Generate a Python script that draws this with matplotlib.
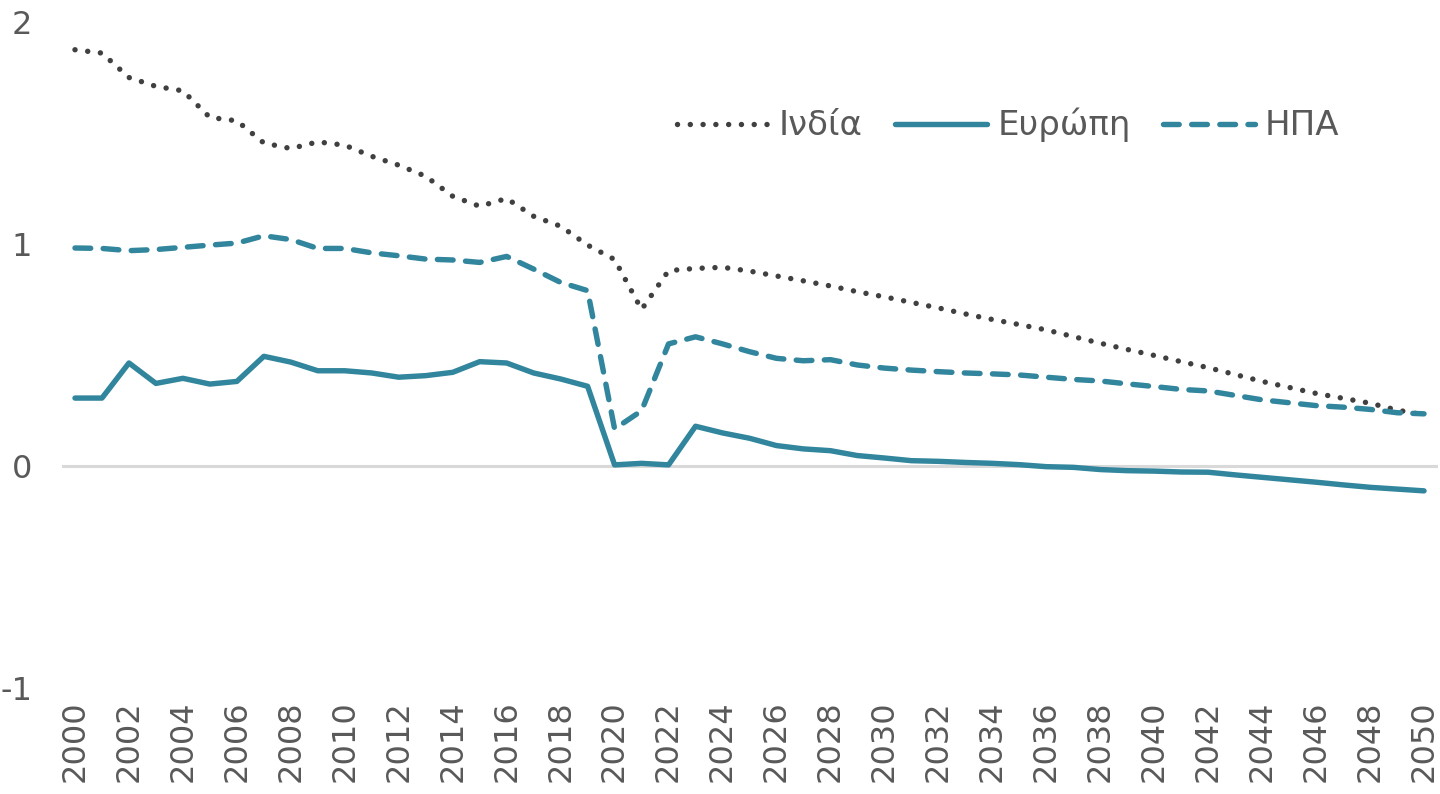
import matplotlib
matplotlib.use("Agg")
import matplotlib.pyplot as plt

years = list(range(2000, 2051))

india = [1.875, 1.86, 1.75, 1.71, 1.69, 1.57, 1.555, 1.455, 1.43, 1.46,
         1.445, 1.395, 1.355, 1.305, 1.215, 1.17, 1.205, 1.125, 1.08, 0.995,
         0.93, 0.705, 0.88, 0.89, 0.895, 0.878, 0.856, 0.834, 0.811, 0.785,
         0.762, 0.737, 0.712, 0.685, 0.66, 0.637, 0.613, 0.583, 0.553, 0.525,
         0.498, 0.47, 0.443, 0.412, 0.381, 0.354, 0.327, 0.305, 0.283, 0.252,
         0.23]

europe = [0.306, 0.306, 0.464, 0.372, 0.395, 0.369, 0.381, 0.494, 0.468, 0.429,
          0.429, 0.419, 0.400, 0.407, 0.422, 0.470, 0.464, 0.419, 0.392, 0.359,
          0.005, 0.012, 0.005, 0.179, 0.149, 0.125, 0.092, 0.077, 0.069, 0.047,
          0.036, 0.024, 0.021, 0.016, 0.012, 0.006, -0.003, -0.006, -0.016, -0.021,
          -0.023, -0.027, -0.028, -0.040, -0.051, -0.062, -0.073, -0.085, -0.096, -0.104,
          -0.112]

usa = [0.982, 0.98, 0.97, 0.975, 0.985, 0.995, 1.004, 1.037, 1.02, 0.98,
       0.98, 0.96, 0.947, 0.932, 0.928, 0.917, 0.944, 0.887, 0.827, 0.79,
       0.167, 0.249, 0.55, 0.582, 0.55, 0.515, 0.485, 0.474, 0.479, 0.455,
       0.441, 0.432, 0.425, 0.419, 0.415, 0.41, 0.40, 0.39, 0.383, 0.37,
       0.358, 0.345, 0.338, 0.318, 0.298, 0.285, 0.272, 0.265, 0.255, 0.24,
       0.235]

labels = ["Ινδία", "Ευρώπη", "ΗΠΑ"]
xtick_years = list(range(2000, 2051, 2))
ytick_vals = [-1, 0, 1, 2]

TEAL = "#31859C"
DARK = "#404040"
TEXT = "#595959"

plt.rcParams['font.family'] = ['DejaVu Sans']

fig = plt.figure(figsize=(14.4, 7.94), dpi=100)
ax = fig.add_axes([61.5 / 1440, 1 - 688 / 794, 1376 / 1440, 666 / 794])

lw = 3.9
ax.axhline(0, color="#D9D9D9", lw=2.2, zorder=1)
ax.plot(years, india, color=DARK, lw=lw, linestyle=(0, (0.01, 2.35)),
        dash_capstyle='round', label=labels[0], zorder=3)
ax.plot(years, europe, color=TEAL, lw=lw, solid_capstyle='round',
        solid_joinstyle='round', label=labels[1], zorder=3)
ax.plot(years, usa, color=TEAL, lw=lw, linestyle=(0, (2.9, 2.3)),
        dash_capstyle='round', label=labels[2], zorder=3)

ax.set_xlim(1999.5, 2050.5)
ax.set_ylim(-1, 2)
ax.set_xticks(xtick_years)
ax.set_xticklabels([str(y) for y in xtick_years], rotation=90)
ax.set_yticks(ytick_vals)
ax.set_yticklabels([str(v) for v in ytick_vals])
ax.tick_params(axis='both', length=0, labelsize=23, colors=TEXT)
ax.tick_params(axis='y', pad=21)
ax.tick_params(axis='x', pad=9)
for s in ax.spines.values():
    s.set_visible(False)

leg = ax.legend(loc='center', bbox_to_anchor=(0.688, 0.845), ncol=3,
                frameon=False, fontsize=24.5, handlelength=2.7,
                handletextpad=0.3, columnspacing=0.95, labelcolor=TEXT)

fig.savefig("out.png", dpi=100)
